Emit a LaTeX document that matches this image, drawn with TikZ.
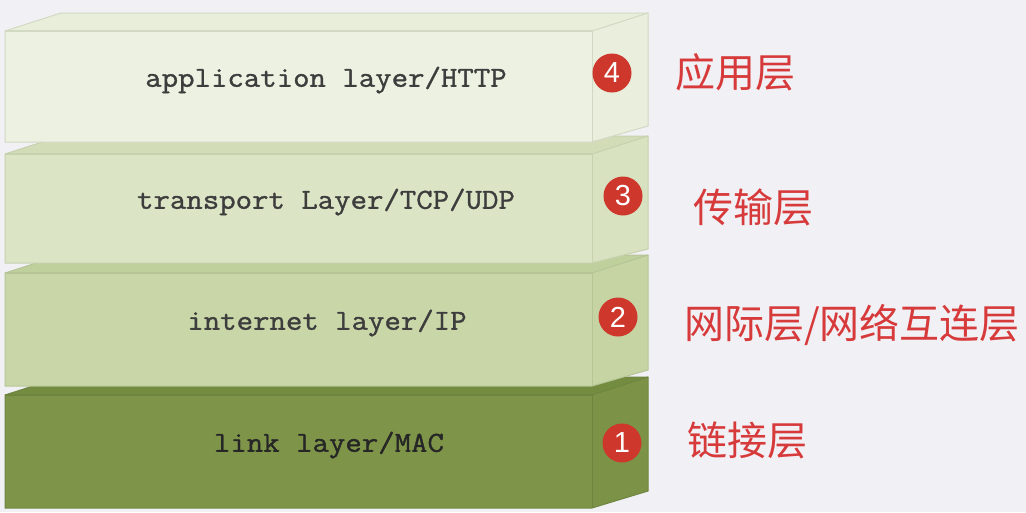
\documentclass[tikz,border=0pt]{standalone}
\usepackage{fontspec}
\newfontfamily\cjk{Noto Sans CJK SC}
\newfontfamily\boxfont[FakeBold=1.2,FakeStretch=1.1]{Latin Modern Mono}
\newfontfamily\numfont{Liberation Sans}
\definecolor{bg}{HTML}{F1F0F5}
\definecolor{badgered}{HTML}{CE372B}
\definecolor{labelred}{HTML}{D73A3A}
\definecolor{aFront}{HTML}{EDF1E1}
\definecolor{aTop}{HTML}{E8EEDA}
\definecolor{aSide}{HTML}{EAEFDD}
\definecolor{aEdge}{HTML}{D2D9C3}
\definecolor{tFront}{HTML}{DBE4C4}
\definecolor{tTop}{HTML}{D2DDB8}
\definecolor{tSide}{HTML}{D8E2C0}
\definecolor{tEdge}{HTML}{C6D1AE}
\definecolor{iFront}{HTML}{C9D7A8}
\definecolor{iTop}{HTML}{C0D09C}
\definecolor{iSide}{HTML}{C6D4A4}
\definecolor{iEdge}{HTML}{B5C596}
\definecolor{lFront}{HTML}{7E9549}
\definecolor{lTop}{HTML}{748C40}
\definecolor{lSide}{HTML}{7C9347}
\definecolor{lEdge}{HTML}{6E8540}
% #1 front top y, #2 front bottom y, #3 back top y, #4 side bottom y, #5 prefix
\newcommand\layerbox[5]{%
  \fill[#5Top] (5,#1) -- (592,#1) -- (648,#3) -- (61,#3) -- cycle;
  \fill[#5Side] (592,#1) -- (648,#3) -- (648,#4) -- (592,#2) -- cycle;
  \fill[#5Front] (5,#1) rectangle (592,#2);
  \draw[#5Edge, line width=1] (5,#1) -- (61,#3) -- (648,#3) -- (648,#4) -- (592,#2) -- (5,#2) -- cycle;
  \draw[#5Edge, line width=1] (592,#1) -- (592,#2);
  \draw[#5Edge, line width=1] (592,#1) -- (648,#3);
  \draw[#5Edge, line width=2.5] (5,#1) -- (592,#1);
}
\tikzset{
  badge/.style={circle, fill=badgered, text=white, minimum size=39pt, inner sep=0pt,
    font=\numfont\fontsize{29}{29}\selectfont},
  cnlabel/.style={anchor=west, inner sep=0pt, text=labelred,
    font=\cjk\fontsize{40}{40}\selectfont},
  layertext/.style={inner sep=0pt, text=#1, font=\boxfont\fontsize{29}{29}\selectfont},
  layertext/.default={black!76}
}
\begin{document}
\begin{tikzpicture}[x=1pt,y=-1pt]
\fill[bg] (0,0) rectangle (1026,512);
\useasboundingbox (0,0) rectangle (1026,512);
% boxes, bottom first
\layerbox{395}{508}{377}{491}{l}
\layerbox{273}{386}{255}{370}{i}
\layerbox{154}{263}{136}{249}{t}
\layerbox{31}{142}{13}{126}{a}
% layer texts
\node[layertext] (app) at (326,80) {application layer/HTTP};
\node[layertext] (tra) at (326,202) {transport Layer/TCP/UDP};
\node[layertext] (int) at (327,323) {internet layer/IP};
\node[layertext={black!85}] (lnk) at (329,445) {link layer/MAC};
% badges
\node[badge] (b4) at (612,73) {4};
\node[badge] (b3) at (623,196) {3};
\node[badge] (b2) at (618,317) {2};
\node[badge] (b1) at (622,443) {1};
% chinese labels
\node[cnlabel] (c4) at (675,72) {应用层};
\node[cnlabel] (c3) at (693,207) {传输层};
\node[cnlabel] (c2) at (684,325) {网际层/网络互连层};
\node[cnlabel] (c1) at (687,440) {链接层};
\end{tikzpicture}
\end{document}
